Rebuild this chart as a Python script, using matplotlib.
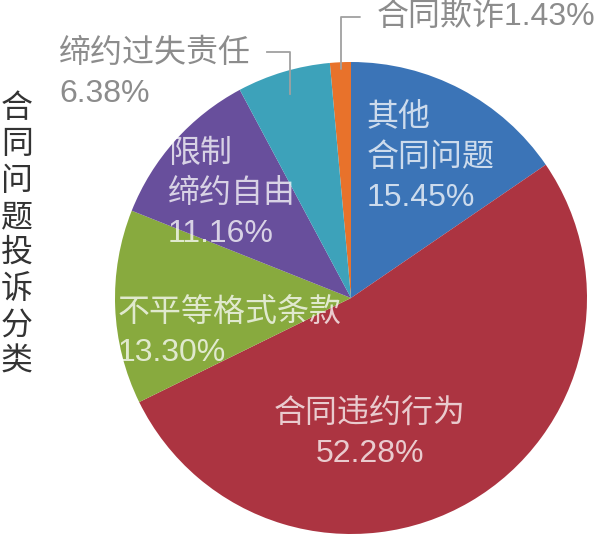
import matplotlib
matplotlib.use("Agg")
from matplotlib import pyplot as plt
import numpy as np

plt.rcParams['font.family'] = ['Liberation Sans', 'Noto Sans CJK SC', 'DejaVu Sans']

# data (clockwise, the small fraud slice sits just left of 12 o'clock)
categories = ["合同欺诈", "其他\n合同问题", "合同违约行为", "不平等格式条款", "限制\n缔约自由", "缔约过失责任"]
shares = [1.43, 15.45, 52.28, 13.30, 11.16, 6.38]
colors = ["#e8722b", "#3b74b7", "#ac3441", "#88aa3e", "#684f9c", "#3da2ba"]
title = "合同问题投诉分类"

W, H, DPI = 600, 541, 100
CX, CY, R = 351, 298, 236   # pie centre / radius in pixels


def px(x, y):
    # pixel (from top-left) -> data coords of the unit pie
    return (x - CX) / R, (CY - y) / R


fig = plt.figure(figsize=(W / DPI, H / DPI), dpi=DPI)
ax = fig.add_axes([0, 0, 1, 1])
# blue slice starts at 12 o'clock, so the orange one ends there
start = 90 + shares[0] / sum(shares) * 360
wedges, _ = ax.pie(shares, colors=colors, startangle=start, counterclock=False,
                   radius=1, wedgeprops=dict(linewidth=0))
ax.set_xlim(-CX / R, (W - CX) / R)
ax.set_ylim(-(H - CY) / R, CY / R)
ax.set_aspect('equal')
ax.axis('off')

inner = dict(color='white', alpha=0.75, fontsize=23, linespacing=1.42, va='center')
grey = '#8c8c8c'
outer = dict(color=grey, fontsize=23, linespacing=1.42)

# labels inside the wedges
ax.text(*px(367, 158), f"{categories[1]}\n{shares[1]:.2f}%", ha='left', **inner)
ax.text(*px(370, 434), f"{categories[2]}\n{shares[2]:.2f}%", ha='center', **inner)
ax.text(*px(118, 333), f"{categories[3]}\n{shares[3]:.2f}%", ha='left', **inner)
ax.text(*px(168, 194), f"{categories[4]}\n{shares[4]:.2f}%", ha='left', **inner)


# outside labels with leader lines
def mid_point(i, r):
    w = wedges[i]
    a = np.deg2rad((w.theta1 + w.theta2) / 2)
    return r * np.cos(a), r * np.sin(a)


ax.annotate(f"{categories[0]}{shares[0]:.2f}%", xy=mid_point(0, 0.97), xytext=px(377, 17),
            ha='left', va='center', **outer,
            arrowprops=dict(arrowstyle='-', color='#a0a0a0', lw=1.3,
                            connectionstyle="angle,angleA=0,angleB=90,rad=0",
                            shrinkA=10, shrinkB=0))

ax.text(*px(59, 74), f"{categories[5]}\n{shares[5]:.2f}%", ha='left', va='center', **outer)
tx, ty = mid_point(5, 0.9)
hx0, hy = px(267, 52)
ax.plot([hx0, tx, tx], [hy, hy, ty], color='#a0a0a0', lw=1.3)

fig.text(17 / W, 1 - 236 / H, "\n".join(title), ha='center', va='center',
         fontsize=23, color='#333333', linespacing=1.27)

fig.savefig("out.png", dpi=DPI)
